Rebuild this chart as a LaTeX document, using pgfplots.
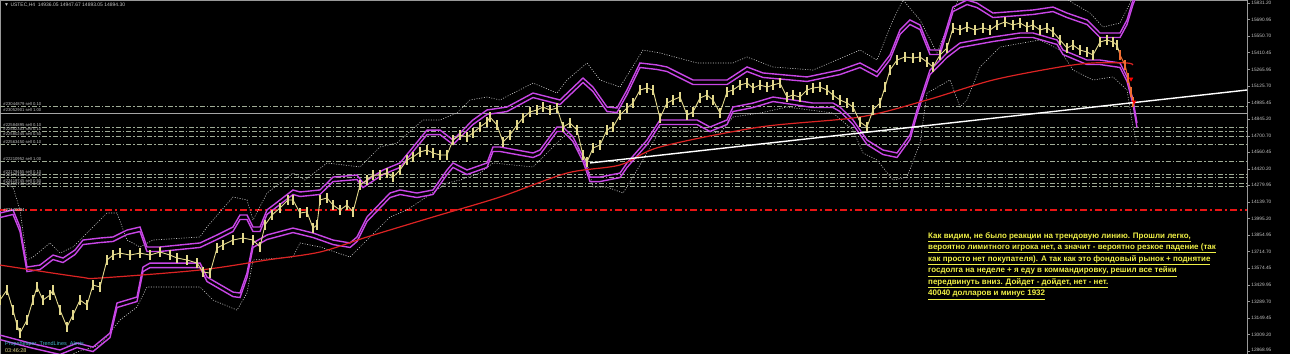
\documentclass[border=0pt]{standalone}
\usepackage{pgfplots}
\pgfplotsset{compat=1.18}
\usepackage{fontspec}
\setmainfont{Liberation Sans}
\usetikzlibrary{backgrounds}
\definecolor{khaki}{RGB}{226,216,140}
\definecolor{mag}{RGB}{200,70,230}
\definecolor{ordl}{RGB}{160,172,150}
\definecolor{ann}{RGB}{240,240,70}
\definecolor{maline}{RGB}{220,35,35}
\definecolor{tlab}{RGB}{195,195,195}
\definecolor{dotc}{RGB}{200,200,200}
\definecolor{ddred}{RGB}{235,20,20}
\definecolor{indc}{RGB}{70,180,205}
\begin{document}
\begin{tikzpicture}
\begin{axis}[
  scale only axis, width=1247bp, height=354bp,
  xmin=0, xmax=1247, ymin=12844, ymax=15857,
  axis background/.style={fill=black},
  axis line style={draw=gray!80, line width=0.6bp},
  xtick=\empty,
  ytick={15831.20,15690.95,15550.70,15410.45,15265.95,15125.70,14985.45,14845.20,14700.70,14560.45,14420.20,14279.95,14139.70,13995.20,13854.95,13714.70,13574.45,13429.95,13289.70,13149.45,13009.20,12868.95},
  yticklabels={\raisebox{-1.5bp}{15831.20},15690.95,15550.70,15410.45,15265.95,15125.70,14985.45,14845.20,14700.70,14560.45,14420.20,14279.95,14139.70,13995.20,13854.95,13714.70,13574.45,13429.95,13289.70,13149.45,13009.20,\raisebox{1.5bp}{12868.95}},
  ytick pos=right, yticklabel pos=right, tick align=outside, major tick length=3bp,
  tick style={gray!80, line width=0.5bp},
  yticklabel style={font=\fontsize{4.8}{5.5}\selectfont, text=tlab, inner sep=0.2bp, xshift=1bp},
  /pgf/number format/assume math mode=true,
  clip=true,
]
% order lines
\pgfplotsinvokeforeach{14955,14776,14742,14699,14631,14487,14376,14350,14299,14274}{
  \addplot[ordl, line width=0.6bp, dash pattern=on 5bp off 2bp on 1.5bp off 2bp] coordinates {(0,#1) (1247,#1)};
}
\addplot[gray!70, line width=0.6bp] coordinates {(0,14894.3) (1247,14894.3)};
% red dash-dot
\addplot[ddred, line width=2.6bp, dash pattern=on 7bp off 3bp on 2bp off 3bp] coordinates {(0,14069.5) (1247,14069.5)};

% upper dotted envelope
\addplot[dotc, line width=0.6bp, dash pattern=on 1bp off 1.5bp] coordinates {
(0,14299)(13,14265)(20,14070)(27,13644)(33,13669)(50,13789)(60,13703)(73,13755)(90,13899)(107,14044)(117,14044)(127,13814)(140,13755)(153,13814)(200,13840)(207,13925)(233,14180)(247,14155)(253,13984)(267,14214)(293,14384)(305,14325)(327,14470)(360,14436)(380,14606)(397,14640)(423,14836)(440,14836)(457,14895)(470,15006)(487,15031)(500,15006)(533,15150)(557,15065)(567,15176)(587,15321)(600,15176)(620,15116)(643,15431)(660,15406)(697,15321)(733,15321)(747,15372)(773,15287)(813,15261)(860,15431)(877,15346)(893,15687)(903,15857)(920,15687)(937,15406)(950,15687)(960,15900)(1060,15900)(1073,15831)(1090,15746)(1103,15627)(1120,15661)(1130,15831)(1135,15942)};
% lower dotted envelope
\addplot[dotc, line width=0.6bp, dash pattern=on 1bp off 1.5bp] coordinates {
(60,12793)(77,12861)(100,12920)(120,13133)(137,13244)(147,13414)(160,13414)(200,13414)(213,13303)(237,13218)(247,13363)(253,13644)(293,13669)(300,13789)(320,13755)(350,13669)(367,13814)(390,14010)(407,14070)(447,14299)(460,14325)(480,14384)(493,14470)(533,14436)(553,14606)(567,14725)(587,14470)(593,14265)(607,14265)(623,14214)(633,14350)(660,14750)(697,14750)(720,14725)(733,14861)(760,14895)(787,14946)(833,14895)(853,14750)(863,14555)(877,14495)(893,14325)(907,14350)(920,14640)(927,15065)(950,15176)(960,14946)(967,15006)(980,15287)(1000,15457)(1040,15517)(1060,15431)(1073,15261)(1093,15176)(1113,15202)(1127,15091)(1133,14776)(1137,14640)};

% bands
\pgfplotstableread{
x y
0 14044
13 14070
20 13925
27 13584
40 13601
53 13686
63 13661
75 13729
83 13814
100 13831
113 13840
127 13899
140 13925
147 13755
160 13755
200 13789
217 13857
233 13925
240 14027
247 14027
253 13925
260 13925
267 14070
280 14155
293 14240
300 14223
320 14240
333 14350
357 14367
363 14299
383 14410
400 14470
427 14750
440 14750
453 14665
473 14836
487 14921
507 14946
533 15065
560 15006
583 15193
593 15116
607 14946
617 14938
627 15091
640 15321
657 15304
667 15287
693 15176
727 15176
747 15287
763 15236
807 15202
840 15261
860 15321
877 15244
890 15389
900 15602
910 15687
920 15644
930 15431
940 15431
953 15797
967 15857
977 15831
993 15746
1033 15772
1053 15797
1067 15746
1087 15687
1100 15576
1120 15576
1127 15687
1133 15857
1137 15942
}\upperband
\pgfplotstableread{
x y
0 13005
30 12937
60 12878
77 12937
93 12903
110 13022
117 13278
137 13329
143 13584
150 13618
200 13618
207 13499
233 13371
240 13363
247 13533
253 13789
267 13857
293 13916
313 13874
333 13814
350 13789
357 13840
367 14010
390 14214
400 14240
417 14214
433 14240
447 14410
453 14470
467 14410
487 14470
493 14606
500 14606
533 14555
540 14580
557 14776
563 14776
573 14691
583 14521
590 14350
600 14350
620 14384
627 14470
647 14665
660 14836
697 14836
710 14776
727 14836
733 14946
753 14980
773 15031
793 15006
813 14980
833 14980
840 14946
853 14836
867 14665
883 14580
897 14555
910 14708
917 14921
930 15261
947 15406
960 15491
993 15542
1020 15576
1033 15576
1057 15517
1063 15431
1087 15346
1100 15346
1120 15321
1127 15202
1133 15006
1137 14810
}\lowerband
\addplot[mag, line width=1.4bp] table {\upperband};
\addplot[mag, line width=1.4bp, yshift=-4.5bp] table {\upperband};
\addplot[mag, line width=1.4bp] table {\lowerband};
\addplot[mag, line width=1.4bp, yshift=-4.5bp] table {\lowerband};

% moving average
\addplot[maline, line width=1.2bp, smooth] coordinates {
(0,13601)(80,13499)(100,13491)(200,13559)(267,13644)(320,13712)(367,13840)(433,14010)(500,14180)(567,14384)(620,14453)(660,14606)(760,14776)(860,14861)(927,15006)(993,15176)(1060,15287)(1093,15321)(1127,15321)(1133,15304)};

% price bars
\addplot[khaki, line width=0.9bp, mark=none,
  error bars/.cd, y dir=both, y fixed=45, error mark=none,
  error bar style={khaki, line width=1.2bp}] coordinates {
(0,13303)(7,13389)(13,13218)(17,13091)(20,13022)(27,13133)(33,13303)(37,13414)(43,13303)(50,13346)(53,13389)(60,13218)(67,13074)(73,13176)(80,13303)(87,13261)(93,13431)(100,13414)(107,13644)(113,13686)(120,13703)(130,13686)(140,13703)(150,13686)(160,13712)(170,13686)(177,13661)(187,13644)(197,13618)(203,13542)(210,13533)(217,13746)(223,13772)(233,13814)(243,13831)(253,13814)(260,13755)(265,13942)(272,14027)(280,14087)(288,14155)(293,14155)(300,14044)(307,14053)(313,13916)(317,13942)(320,14155)(327,14172)(333,14112)(340,14070)(347,14112)(353,14053)(360,14282)(367,14325)(373,14367)(380,14367)(387,14384)(393,14350)(400,14410)(407,14495)(413,14521)(420,14563)(427,14580)(433,14555)(440,14538)(447,14538)(453,14665)(460,14708)(467,14691)(473,14725)(480,14776)(487,14819)(490,14861)(497,14793)(503,14648)(510,14708)(517,14793)(523,14853)(530,14904)(537,14921)(543,14946)(550,14921)(557,14938)(563,14776)(570,14810)(577,14751)(583,14538)(587,14478)(593,14597)(600,14623)(607,14751)(613,14776)(620,14878)(627,14938)(633,14980)(640,15091)(647,15108)(653,15091)(660,14853)(667,14980)(673,15006)(680,15031)(687,14878)(693,14904)(700,15023)(707,15048)(713,15006)(720,14895)(727,15074)(733,15091)(740,15133)(747,15150)(753,15108)(760,15133)(767,15116)(773,15133)(780,15150)(787,15031)(793,15048)(800,15031)(807,15091)(813,15108)(820,15116)(827,15091)(833,15048)(840,15006)(847,14980)(853,14946)(860,14819)(867,14776)(873,14921)(880,14980)(885,15116)(890,15261)(897,15346)(905,15372)(913,15363)(920,15372)(927,15329)(933,15287)(940,15389)(947,15448)(953,15619)(960,15602)(967,15627)(975,15602)(983,15619)(990,15602)(997,15644)(1005,15670)(1013,15644)(1020,15661)(1027,15627)(1033,15644)(1040,15602)(1047,15619)(1053,15585)(1060,15517)(1067,15448)(1073,15474)(1080,15431)(1087,15414)(1093,15389)(1100,15499)(1107,15517)(1113,15499)(1117,15474)(1120,15389)};
\addplot[color={rgb,255:red,240;green,110;blue,50}, line width=1bp, mark=none,
  error bars/.cd, y dir=both, y fixed=40, error mark=none,
  error bar style={color={rgb,255:red,240;green,110;blue,50}, line width=1.1bp}] coordinates {
(1120,15389)(1125,15304)(1128,15193)(1131,15074)(1133,14989)};
\addplot[only marks, mark=triangle*, mark size=2.2bp, color=red, mark options={rotate=180}] coordinates {(1131,15185)(1134,14990)};

% trend line
\addplot[white, line width=1.4bp] coordinates {(590,14470) (1247,15091)};

% texts
\begin{scope}[every node/.style={font=\fontsize{4.2}{5}\selectfont, text=tlab, inner sep=0.3bp, anchor=south west}]
\node at (axis cs:3,14958) {\#23044879 sell 0.10};
\node at (axis cs:3,14904) {\#23052901 sell 1.00};
\node at (axis cs:3,14779) {\#22584895 sell 0.10};
\node at (axis cs:3,14745) {\#22582303 sell 0.10};
\node at (axis cs:3,14702) {\#22580245 sell 0.50};
\node at (axis cs:3,14634) {\#22563450 sell 0.10};
\node at (axis cs:3,14490) {\#22210952 sell 1.00};
\node at (axis cs:3,14379) {\#22179455 sell 0.10};
\node at (axis cs:3,14353) {\#22179456 sell 0.50};
\node at (axis cs:3,14302) {\#22419745 sell 0.50};
\node at (axis cs:3,14277) {\#22419746 sell 0.50};
\node[text=white] at (axis cs:3,14056) {\#22140004};
\end{scope}
\node[anchor=north west, font=\fontsize{5}{6}\selectfont, text=tlab, inner sep=0] at (axis cs:4,15835) {▼ USTEC,H4\ \ 14936.05 14947.67 14893.05 14894.30};
\node[anchor=south west, align=left, font=\fontsize{5.5}{7}\selectfont, inner sep=0] at (axis cs:5,12858) {\textcolor{indc}{Propsheaper\_TrendLines\_Alerts}\\\textcolor{khaki}{03:46:28}};
\node[anchor=west, fill=white, text=black, inner sep=0.6bp, font=\fontsize{5}{6}\selectfont] at (axis cs:1249,14894.3) {14894.30};
\node[anchor=north west, align=left, text=ann, inner sep=0, font=\fontsize{8}{11.6}\selectfont\bfseries] at (axis cs:928,13882) {%
\underline{Как видим, не было реакции на трендовую линию. Прошли легко,}\\
\underline{вероятно лимитного игрока нет, а значит - вероятно резкое падение (так}\\
\underline{как просто нет покупателя). А так как это фондовый рынок + поднятие}\\
\underline{госдолга на неделе + я еду в коммандировку, решил все тейки}\\
\underline{передвинуть вниз. Дойдет - дойдет, нет - нет.}\\
\underline{40040 долларов и минус 1932}};
\end{axis}
\pgfresetboundingbox
\begin{pgfonlayer}{background}
\fill[black] (current axis.south west) rectangle ([xshift=43bp]current axis.north east);
\end{pgfonlayer}
\path[use as bounding box] (current axis.south west) rectangle ([xshift=43bp]current axis.north east);
\end{tikzpicture}
\end{document}
